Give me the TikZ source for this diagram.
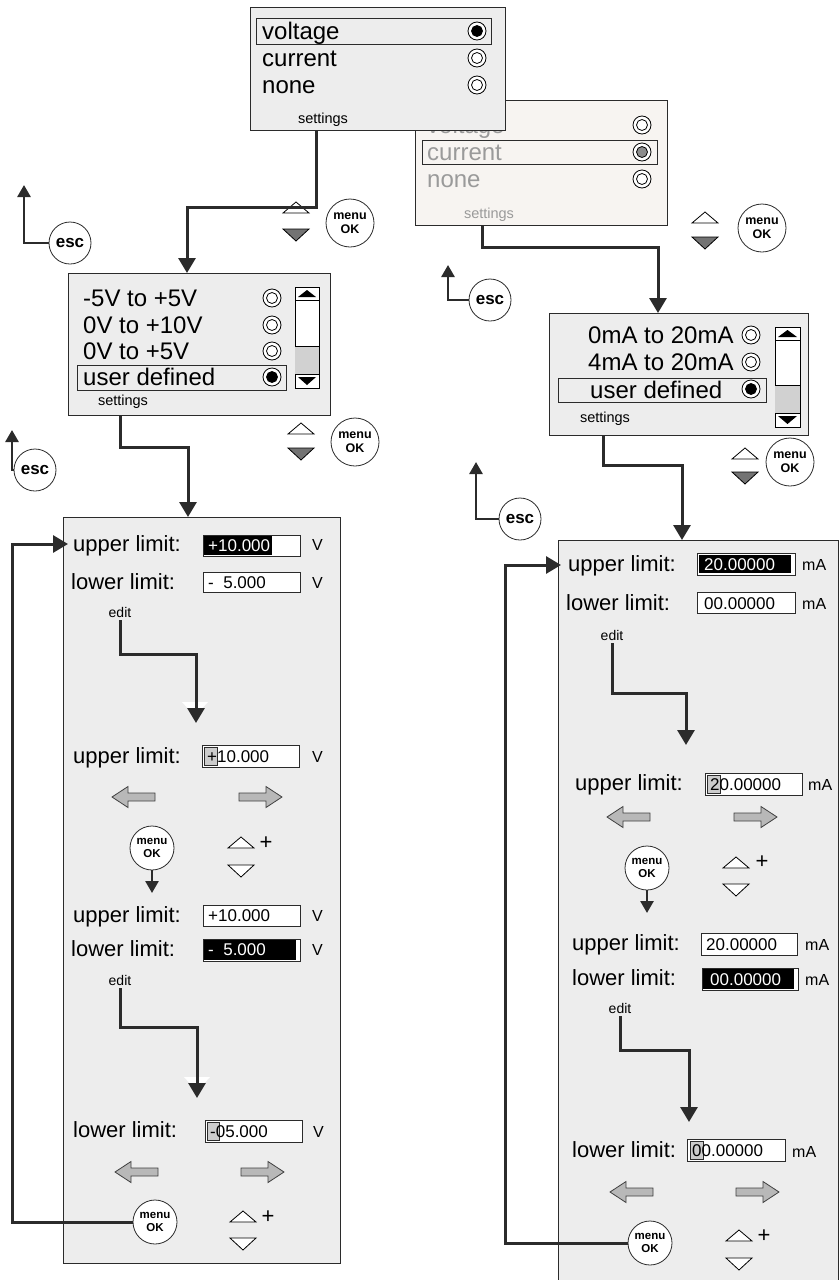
\documentclass[tikz,border=0pt]{standalone}
\usepackage{fontspec}
\setmainfont{Liberation Sans}
\usetikzlibrary{arrows.meta}

\definecolor{panelgray}{HTML}{EDEDED}
\definecolor{fadedfill}{HTML}{F7F4F1}
\definecolor{fadedtext}{HTML}{9A9A9A}
\definecolor{linedark}{HTML}{2B2B2B}

% radio button: x, y, inner fill
\newcommand{\radiobtn}[3]{%
  \draw[line width=0.8pt, fill=white] (#1,#2) circle (9pt);
  \draw[line width=0.8pt, fill=#3] (#1,#2) circle (5.5pt);}
% scroll bar: x1, y1, x2, y2
\newcommand{\scrollbox}[4]{%
  \draw[line width=0.8pt, fill=white] (#1,#2) rectangle (#3,#4);
  \fill[black!18] (#1,#4-42) rectangle (#3,#4-14);
  \draw[line width=0.8pt] (#1,#2+13) -- (#3,#2+13) (#1,#4-14) -- (#3,#4-14) (#1,#4-42) -- (#3,#4-42);
  \fill (#1+3,#2+10) -- (#3-3,#2+10) -- ({(#1+#3)/2},#2+3) -- cycle;
  \fill (#1+3,#4-11) -- (#3-3,#4-11) -- ({(#1+#3)/2},#4-3) -- cycle;}
% up / down keys: x left, y top of up, y top of down, fill of down
\newcommand{\updown}[4]{%
  \draw[line width=0.8pt, fill=white] (#1,#2+11) -- (#1+13,#2) -- (#1+26,#2+11) -- cycle;
  \draw[line width=0.8pt, fill=#4] (#1,#3) -- (#1+26,#3) -- (#1+13,#3+12) -- cycle;}
% block arrows: tip x, centre y
\newcommand{\blockleft}[2]{%
  \draw[line width=0.8pt, draw=black!75, fill=black!28] (#1,#2) -- ++(16,-10.5) -- ++(0,6.5) -- ++(27,0)
    -- ++(0,8) -- ++(-27,0) -- ++(0,6.5) -- cycle;}
\newcommand{\blockright}[2]{%
  \draw[line width=0.8pt, draw=black!75, fill=black!28] (#1,#2) -- ++(-16,-10.5) -- ++(0,6.5) -- ++(-27,0)
    -- ++(0,8) -- ++(27,0) -- ++(0,6.5) -- cycle;}

\begin{document}
\begin{tikzpicture}[x=1pt, y=-1pt, line join=miter,
  panel/.style={draw=linedark, fill=panelgray, line width=0.8pt, inner sep=0, anchor=north west},
  row/.style={anchor=base west, inner sep=0, font=\fontsize{24}{28}\selectfont},
  tag/.style={anchor=base, inner sep=0, font=\fontsize{14.5}{17}\selectfont},
  limit/.style={anchor=base west, inner sep=0, font=\fontsize{22}{26}\selectfont},
  value/.style={anchor=base west, inner sep=0, font=\fontsize{17}{20}\selectfont},
  unit/.style={anchor=base west, inner sep=0, font=\fontsize{16}{19}\selectfont},
  plus/.style={inner sep=0, font=\fontsize{22}{22}\selectfont},
  frame/.style={draw=linedark, line width=0.8pt},
  conn/.style={draw=linedark, line width=3pt, -{Triangle[width=17pt,length=15pt]}},
  thinconn/.style={draw=linedark, line width=2.6pt, -{Triangle[width=13pt,length=12pt]}},
  okbtn/.style={circle, draw=linedark, line width=0.8pt, fill=white, minimum size=44pt,
    inner sep=0, align=center, font=\bfseries\fontsize{11.5}{13.5}\selectfont},
  keybtn/.style={okbtn, minimum size=48pt, font=\bfseries\fontsize{12.5}{14.5}\selectfont},
  escbtn/.style={okbtn, minimum size=42pt, font=\bfseries\fontsize{17}{20}\selectfont}
]
\useasboundingbox[fill=white] (0,0) rectangle (840,1280);

% ---------- source screens ----------
% second state (current), lies behind
\node[panel, fill=fadedfill, minimum width=252pt, minimum height=125pt] (srcB) at (415,100) {};
\node[row, text=fadedtext] (srcB-1) at (427,133) {voltage};
\node[row, text=fadedtext] (srcB-2) at (427,160) {current};
\node[row, text=fadedtext] (srcB-3) at (427,187) {none};
\draw[frame] (422,140) rectangle (657,164);
\radiobtn{642}{125}{white}
\radiobtn{642}{152}{black!45}
\radiobtn{642}{179}{white}
\node[tag, text=fadedtext] (srcB-set) at (489,218) {settings};

% first state (voltage)
\node[panel, minimum width=255pt, minimum height=123pt] (srcA) at (250,7) {};
\node[row] (srcA-1) at (262,39) {voltage};
\node[row] (srcA-2) at (262,66) {current};
\node[row] (srcA-3) at (262,93) {none};
\draw[frame] (256,18) rectangle (491,44);
\radiobtn{477}{31}{black}
\radiobtn{477}{58}{white}
\radiobtn{477}{85}{white}
\node[tag] (srcA-set) at (323,123) {settings};

% ---------- range screens ----------
\node[panel, minimum width=262pt, minimum height=142pt] (rngV) at (68,273) {};
\node[row] (rngV-1) at (83,306) {-5V to +5V};
\node[row] (rngV-2) at (83,333) {0V to +10V};
\node[row] (rngV-3) at (83,359) {0V to +5V};
\node[row] (rngV-4) at (83,385) {user defined};
\draw[frame] (77,365) rectangle (286,390);
\radiobtn{272}{298}{white}
\radiobtn{272}{325}{white}
\radiobtn{272}{351}{white}
\radiobtn{272}{377}{black}
\scrollbox{295}{287}{319}{388}
\node[tag] (rngV-set) at (123,405) {settings};

\node[panel, minimum width=259pt, minimum height=122pt] (rngI) at (549,313) {};
\node[row] (rngI-1) at (588,343) {0mA to 20mA};
\node[row] (rngI-2) at (588,370) {4mA to 20mA};
\node[row] (rngI-3) at (590,398) {user defined};
\draw[frame] (558,378) rectangle (766,402);
\radiobtn{751}{335}{white}
\radiobtn{751}{362}{white}
\radiobtn{751}{389}{black}
\scrollbox{775}{327}{800}{427}
\node[tag] (rngI-set) at (605,422) {settings};

% ---------- keys beside the screens ----------
\node[keybtn] (okA) at (350,223) {menu\\OK};
\updown{283}{202}{229}{black!55}
\node[keybtn] (okB) at (762,228) {menu\\OK};
\updown{692}{212}{237}{black!55}
\node[keybtn] (okC) at (355,442) {menu\\OK};
\updown{288}{423}{448}{black!55}
\node[keybtn] (okD) at (790,462) {menu\\OK};
\updown{732}{448}{472}{black!55}

\node[escbtn] (escA) at (70,243) {esc};
\node[escbtn] (escB) at (490,300) {esc};
\node[escbtn] (escC) at (35,470) {esc};
\node[escbtn] (escD) at (520,519) {esc};
\coordinate (escA-up) at (24,185);
\coordinate (escB-up) at (448,265);
\coordinate (escC-up) at (12,430);
\coordinate (escD-up) at (476,462);
\draw[thinconn] (escA.west) -| (escA-up);
\draw[thinconn] (escB.west) -| (escB-up);
\draw[thinconn] (escC.west) -| (escC-up);
\draw[thinconn] (escD.west) -| (escD-up);

% ---------- edit panels ----------
\node[panel, minimum width=277pt, minimum height=746pt] (panV) at (63,517) {};
\node[panel, minimum width=280pt, minimum height=745pt] (panI) at (558,540) {};

% screen to screen
\coordinate (srcA-out) at (316,130);
\coordinate (rngV-in) at (187,273);
\coordinate (srcB-out) at (482,225);
\coordinate (rngI-in) at (658,313);
\coordinate (rngV-out) at (120,415);
\coordinate (panV-in) at (188,517);
\coordinate (rngI-out) at (603,435);
\coordinate (panI-in) at (682,540);
\draw[conn] (srcA-out) -- ++(0,77) -| (rngV-in);
\draw[conn] (srcB-out) -- ++(0,22) -| (rngI-in);
\draw[conn] (rngV-out) -- ++(0,32) -| (panV-in);
\draw[conn] (rngI-out) -- ++(0,30) -| (panI-in);

% --- voltage limits ---
\node[limit] (ulV1) at (73,551) {upper limit:};
\draw[frame, fill=white] (203,535) rectangle (300,556);
\fill[black] (204,536) rectangle (272,555);
\node[value, text=white] (ulV1-v) at (208,551) {+10.000};
\node[unit] (ulV1-u) at (312,550) {V};
\node[limit] (llV1) at (71,589) {lower limit:};
\draw[frame, fill=white] (203,572) rectangle (300,592);
\node[value] (llV1-v) at (208,588) {-~~5.000};
\node[unit] (llV1-u) at (312,588) {V};
\node[tag, font=\fontsize{14}{16}\selectfont] (editV1) at (120,617) {edit};

\coordinate (tipV1) at (196,723);
\fill[white] (182,702) -- (208,702) -- (195,716) -- cycle;
\draw[conn, shorten <=3pt] (editV1.south) -- ++(0,37) -| (tipV1);

\node[limit] (ulV2) at (73,763) {upper limit:};
\draw[frame, fill=white] (202,745) rectangle (299,767);
\draw[frame, fill=black!20] (204,747) rectangle (217,765);
\node[value] (ulV2-v) at (207,762) {+10.000};
\node[unit] (ulV2-u) at (312,762) {V};
\blockleft{112}{797}
\blockright{282}{797}
\node[okbtn] (okV1) at (152,848) {menu\\OK};
\coordinate (okV1-to) at (152,893);
\draw[thinconn] (okV1.south) -- (okV1-to);
\updown{228}{837}{865}{white}
\node[plus] (plusV1) at (266,843) {+};

\node[limit] (ulV3) at (73,922) {upper limit:};
\draw[frame, fill=white] (203,905) rectangle (300,926);
\node[value] (ulV3-v) at (208,921) {+10.000};
\node[unit] (ulV3-u) at (312,921) {V};
\node[limit] (llV3) at (71,956) {lower limit:};
\draw[frame, fill=white] (203,939) rectangle (300,961);
\fill[black] (204,940) rectangle (296,960);
\node[value, text=white] (llV3-v) at (208,955) {-~~5.000};
\node[unit] (llV3-u) at (312,955) {V};
\node[tag, font=\fontsize{14}{16}\selectfont] (editV2) at (120,985) {edit};

\coordinate (tipV2) at (197,1098);
\fill[white] (184,1077) -- (210,1077) -- (197,1091) -- cycle;
\draw[conn, shorten <=3pt] (editV2.south) -- ++(0,42) -| (tipV2);

\node[limit] (llV4) at (73,1137) {lower limit:};
\draw[frame, fill=white] (205,1120) rectangle (302,1142);
\draw[frame, fill=black!20] (207,1122) rectangle (219,1140);
\node[value] (llV4-v) at (210,1137) {-05.000};
\node[unit] (llV4-u) at (313,1137) {V};
\blockleft{115}{1172}
\blockright{284}{1172}
\node[okbtn] (okV2) at (155,1222) {menu\\OK};
\updown{230}{1211}{1238}{white}
\node[plus] (plusV2) at (268,1217) {+};

% back to upper limit
\coordinate (loopV) at (12,544);
\coordinate (panV-back) at (68,544);
\draw[conn] (okV2.west) -| (loopV) -- (panV-back);

% --- current limits ---
\node[limit] (ulI1) at (568,571) {upper limit:};
\draw[frame, fill=white] (697,553) rectangle (795,575);
\fill[black] (699,555) rectangle (791,573);
\node[value, text=white] (ulI1-v) at (704,570) {20.00000};
\node[unit] (ulI1-u) at (802,570) {mA};
\node[limit] (llI1) at (566,610) {lower limit:};
\draw[frame, fill=white] (697,592) rectangle (795,613);
\node[value] (llI1-v) at (704,609) {00.00000};
\node[unit] (llI1-u) at (802,609) {mA};
\node[tag, font=\fontsize{14}{16}\selectfont] (editI1) at (612,640) {edit};

\coordinate (tipI1) at (686,745);
\draw[conn, shorten <=3pt] (editI1.south) -- ++(0,53) -| (tipI1);

\node[limit] (ulI2) at (575,790) {upper limit:};
\draw[frame, fill=white] (705,773) rectangle (802,795);
\draw[frame, fill=black!20] (707,775) rectangle (720,793);
\node[value] (ulI2-v) at (710,790) {20.00000};
\node[unit] (ulI2-u) at (808,790) {mA};
\blockleft{607}{817}
\blockright{777}{817}
\node[okbtn] (okI1) at (647,868) {menu\\OK};
\coordinate (okI1-to) at (647,913);
\draw[thinconn] (okI1.south) -- (okI1-to);
\updown{723}{857}{884}{white}
\node[plus] (plusI1) at (762,862) {+};

\node[limit] (ulI3) at (572,950) {upper limit:};
\draw[frame, fill=white] (701,933) rectangle (797,955);
\node[value] (ulI3-v) at (706,950) {20.00000};
\node[unit] (ulI3-u) at (805,950) {mA};
\node[limit] (llI3) at (572,985) {lower limit:};
\draw[frame, fill=white] (702,968) rectangle (798,990);
\fill[black] (703,969) rectangle (794,989);
\node[value, text=white] (llI3-v) at (710,985) {00.00000};
\node[unit] (llI3-u) at (805,985) {mA};
\node[tag, font=\fontsize{14}{16}\selectfont] (editI2) at (620,1013) {edit};

\coordinate (tipI2) at (689,1122);
\draw[conn, shorten <=3pt] (editI2.south) -- ++(0,37) -| (tipI2);

\node[limit] (llI4) at (572,1157) {lower limit:};
\draw[frame, fill=white] (687,1139) rectangle (785,1161);
\draw[frame, fill=black!20] (690,1141) rectangle (703,1159);
\node[value] (llI4-v) at (692,1156) {00.00000};
\node[unit] (llI4-u) at (792,1157) {mA};
\blockleft{610}{1192}
\blockright{779}{1192}
\node[okbtn] (okI2) at (650,1243) {menu\\OK};
\updown{726}{1230}{1258}{white}
\node[plus] (plusI2) at (764,1236) {+};

% back to upper limit
\coordinate (loopI) at (505,565);
\coordinate (panI-back) at (561,565);
\draw[conn] (okI2.west) -| (loopI) -- (panI-back);

\end{tikzpicture}
\end{document}
